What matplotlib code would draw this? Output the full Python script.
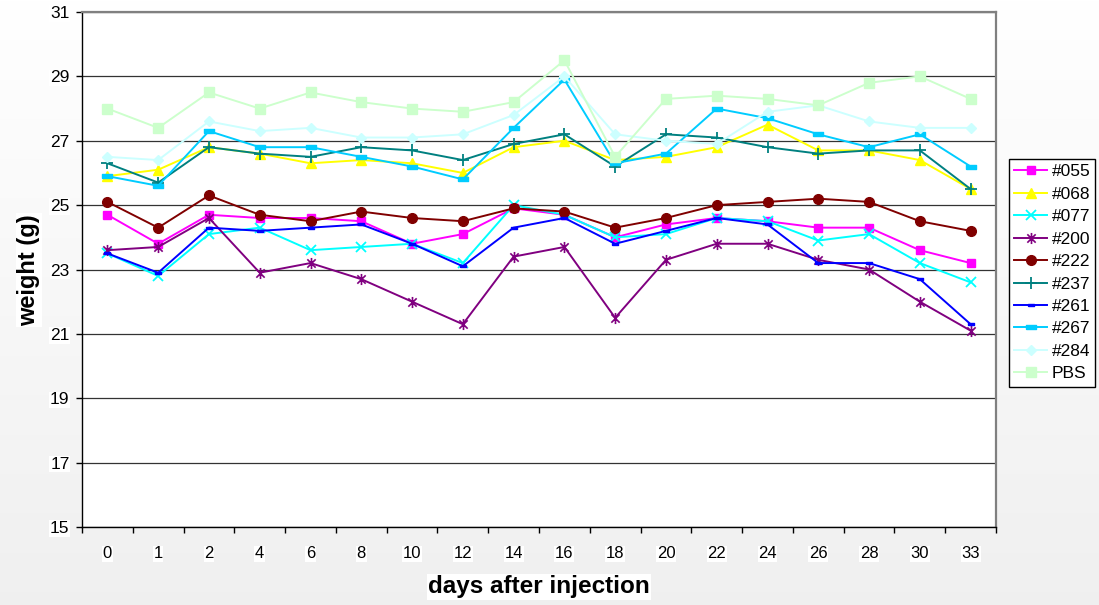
import numpy as np
import matplotlib
matplotlib.use("Agg")
import matplotlib.pyplot as plt
from matplotlib.path import Path

plt.rcParams['font.family'] = ['Liberation Sans', 'DejaVu Sans']

days = ['0', '1', '2', '4', '6', '8', '10', '12', '14', '16', '18', '20',
        '22', '24', '26', '28', '30', '33']

s055 = [24.7, 23.8, 24.7, 24.6, 24.6, 24.5, 23.8, 24.1, 24.9, 24.7, 24.0, 24.4,
        24.6, 24.5, 24.3, 24.3, 23.6, 23.2]
s068 = [25.9, 26.1, 26.8, 26.6, 26.3, 26.4, 26.3, 26.0, 26.8, 27.0, 26.4, 26.5,
        26.8, 27.5, 26.7, 26.7, 26.4, 25.5]
s077 = [23.5, 22.8, 24.1, 24.3, 23.6, 23.7, 23.8, 23.2, 25.0, 24.7, 24.0, 24.1,
        24.6, 24.5, 23.9, 24.1, 23.2, 22.6]
s200 = [23.6, 23.7, 24.6, 22.9, 23.2, 22.7, 22.0, 21.3, 23.4, 23.7, 21.5, 23.3,
        23.8, 23.8, 23.3, 23.0, 22.0, 21.1]
s222 = [25.1, 24.3, 25.3, 24.7, 24.5, 24.8, 24.6, 24.5, 24.9, 24.8, 24.3, 24.6,
        25.0, 25.1, 25.2, 25.1, 24.5, 24.2]
s237 = [26.3, 25.7, 26.8, 26.6, 26.5, 26.8, 26.7, 26.4, 26.9, 27.2, 26.2, 27.2,
        27.1, 26.8, 26.6, 26.7, 26.7, 25.5]
s261 = [23.5, 22.9, 24.3, 24.2, 24.3, 24.4, 23.8, 23.1, 24.3, 24.6, 23.8, 24.2,
        24.6, 24.4, 23.2, 23.2, 22.7, 21.3]
s267 = [25.9, 25.6, 27.3, 26.8, 26.8, 26.5, 26.2, 25.8, 27.4, 28.9, 26.3, 26.6,
        28.0, 27.7, 27.2, 26.8, 27.2, 26.2]
s284 = [26.5, 26.4, 27.6, 27.3, 27.4, 27.1, 27.1, 27.2, 27.8, 29.0, 27.2, 27.0,
        26.9, 27.9, 28.1, 27.6, 27.4, 27.4]
sPBS = [28.0, 27.4, 28.5, 28.0, 28.5, 28.2, 28.0, 27.9, 28.2, 29.5, 26.5, 28.3,
        28.4, 28.3, 28.1, 28.8, 29.0, 28.3]

labels = ['#055', '#068', '#077', '#200', '#222', '#237', '#261', '#267', '#284', 'PBS']
series = [s055, s068, s077, s200, s222, s237, s261, s267, s284, sPBS]
yticks = [15, 17, 19, 21, 23, 25, 27, 29, 31]

# custom markers
bar_small = Path([(-1, -0.45), (1, -0.45), (1, 0.45), (-1, 0.45), (-1, -0.45)])
bar_long = Path([(-1, -0.35), (1, -0.35), (1, 0.35), (-1, 0.35), (-1, -0.35)])
ast = Path([(0, -1), (0, 1), (-0.75, -0.75), (0.75, 0.75), (-0.75, 0.75), (0.75, -0.75)],
           [Path.MOVETO, Path.LINETO, Path.MOVETO, Path.LINETO, Path.MOVETO, Path.LINETO])

styles = [
    dict(color='#FF00FF', marker='s', ms=6.0, mec='#FF00FF', mfc='#FF00FF'),
    dict(color='#FFFF00', marker='^', ms=7.5, mec='#FFFF00', mfc='#FFFF00'),
    dict(color='#00FFFF', marker='x', ms=7.0, mew=1.3),
    dict(color='#800080', marker=ast, ms=8.0, mew=1.2),
    dict(color='#800000', marker='o', ms=7.0),
    dict(color='#008080', marker='+', ms=8.0, mew=1.3),
    dict(color='#0000FF', marker=bar_small, ms=4.5),
    dict(color='#00CCFF', marker=bar_long, ms=7.5),
    dict(color='#CCFFFF', marker='D', ms=5.5),
    dict(color='#CCFFCC', marker='s', ms=7.0),
]

fig = plt.figure(figsize=(10.99, 6.05), dpi=100)
fig.patch.set_facecolor('white')

# gradient background
bg = fig.add_axes([0, 0, 1, 1], zorder=-10)
grad = np.linspace(1.0, 0.94, 256).reshape(-1, 1)
bg.imshow(np.dstack([grad, grad, grad]), aspect='auto', extent=[0, 1, 0, 1])
bg.axis('off')

W, H = 1099, 605
ax = fig.add_axes([82 / W, 1 - 527 / H, (996 - 82) / W, (527 - 12) / H])
ax.set_facecolor('white')

x = np.arange(len(days))
for data, lab, st in zip(series, labels, styles):
    ax.plot(x, data, label=lab, lw=1.4, **st)

ax.set_xlim(-0.5, len(days) - 0.5)
ax.set_ylim(15, 31)
ax.set_yticks(yticks)
ax.set_yticklabels([str(v) for v in yticks])
ax.set_xticks(x)
ax.set_xticklabels(days)
ax.set_xticks(np.arange(-0.5, len(days), 1), minor=True)
ax.tick_params(axis='x', which='major', length=0, pad=14, labelsize=12)
ax.tick_params(axis='x', which='minor', length=4, width=1, direction='out')
ax.tick_params(axis='y', length=4, width=1, direction='out', pad=5, labelsize=12.5)
for t in ax.get_xticklabels() + ax.get_yticklabels():
    t.set_bbox(dict(facecolor='white', edgecolor='none', pad=0.5))

ax.yaxis.grid(True, color='#333333', lw=0.9)
ax.set_axisbelow(True)
for s in ['left', 'bottom']:
    ax.spines[s].set_color('black')
    ax.spines[s].set_linewidth(1.0)
for s in ['top', 'right']:
    ax.spines[s].set_color('#808080')
    ax.spines[s].set_linewidth(1.6)

fig.text(29 / W, 1 - 270 / H, 'weight (g)', rotation=90, ha='center', va='center',
         fontsize=17, fontweight='bold',
         bbox=dict(facecolor='white', edgecolor='none', pad=1))
fig.text(539 / W, 1 - 587 / H, 'days after injection', ha='center', va='center',
         fontsize=17.5, fontweight='bold',
         bbox=dict(facecolor='white', edgecolor='none', pad=1))

leg = fig.legend(loc='upper left', bbox_to_anchor=(1009 / W, 1 - 159 / H),
                 fontsize=12.5, frameon=True, fancybox=False, framealpha=1,
                 edgecolor='black', handlelength=1.9, handletextpad=0.25,
                 labelspacing=0.42, borderpad=0.3, borderaxespad=0)
leg.get_frame().set_linewidth(1.0)

fig.savefig('out.png', dpi=100)
